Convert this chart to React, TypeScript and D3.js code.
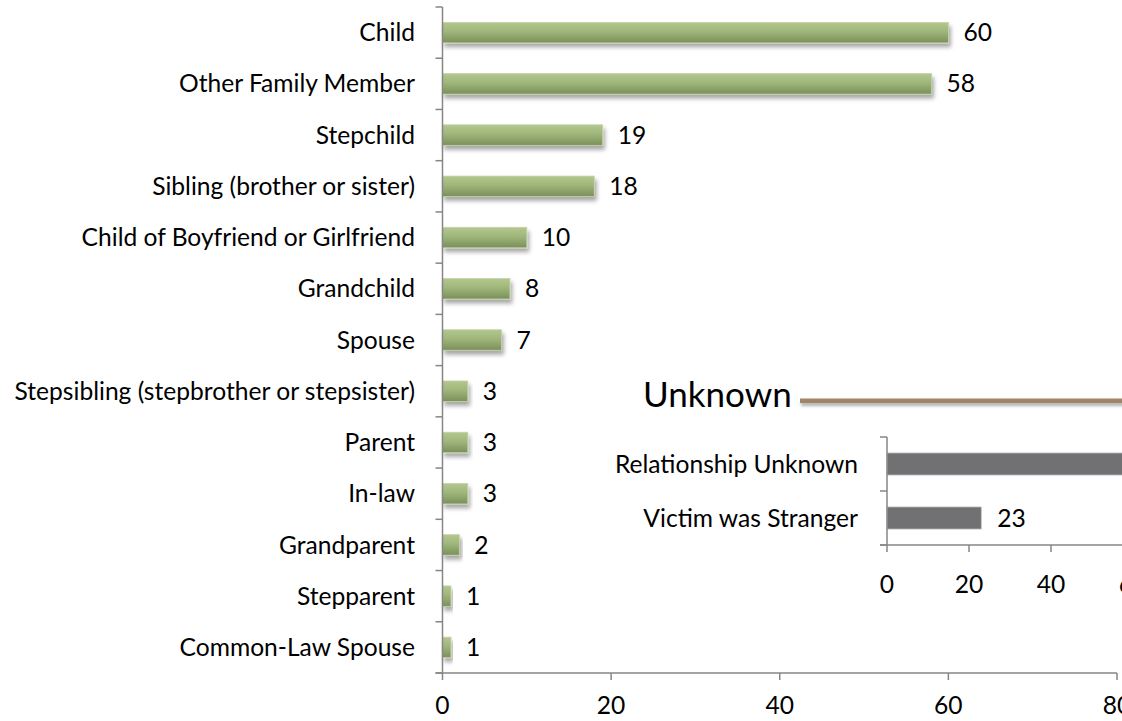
import React from "react";
import * as d3 from "d3";

const categories = [
  "Child",
  "Other Family Member",
  "Stepchild",
  "Sibling (brother or sister)",
  "Child of Boyfriend or Girlfriend",
  "Grandchild",
  "Spouse",
  "Stepsibling (stepbrother or stepsister)",
  "Parent",
  "In-law",
  "Grandparent",
  "Stepparent",
  "Common-Law Spouse",
];
const values = [60, 58, 19, 18, 10, 8, 7, 3, 3, 3, 2, 1, 1];
const mainTicks = [0, 20, 40, 60, 80];

const insetTitle = "Unknown";
const insetCategories = ["Relationship Unknown", "Victim was Stranger"];
const insetValues = [71, 23];
const insetTicks = [0, 20, 40, 60];

const FONT = "Lato, 'Open Sans', sans-serif";
const LABEL_SIZE = 24.6;
const AXIS = "#868686";

export default function App() {
  const W = 1122;
  const H = 721;

  const x = d3.scaleLinear().domain([0, 80]).range([442.5, 1117]);
  const y = d3.scaleBand<string>().domain(categories).range([7, 673]).paddingInner(0.6).paddingOuter(0.3);
  const step = y.step();
  const y0 = 7;

  const ix = d3.scaleLinear().domain([0, 60]).range([887, 887 + 4.1 * 60]);
  const iy = d3.scaleBand<string>().domain(insetCategories).range([437, 545]).paddingInner(0.59).paddingOuter(0.295);
  const iStep = iy.step();

  return (
    <svg
      width={W}
      height={H}
      style={{ position: "absolute", left: 0, top: 0, background: "#fff" }}
      fontFamily={FONT}
    >
      <defs>
        <linearGradient id="greenGrad" x1="0" y1="0" x2="0" y2="1">
          <stop offset="0%" stopColor="#b3c78f" />
          <stop offset="45%" stopColor="#9fb67a" />
          <stop offset="100%" stopColor="#7a8f5a" />
        </linearGradient>
        <filter id="shadow" x="-20%" y="-50%" width="140%" height="250%">
          <feDropShadow dx="2" dy="4" stdDeviation="2" floodColor="#000" floodOpacity="0.35" />
        </filter>
        <filter id="lineShadow" filterUnits="userSpaceOnUse" x="780" y="390" width="360" height="30">
          <feDropShadow dx="1" dy="3" stdDeviation="1.5" floodColor="#000" floodOpacity="0.3" />
        </filter>
      </defs>

      {/* Main chart bars */}
      {categories.map((c, i) => (
        <g key={c}>
          <rect
            x={x(0)}
            y={y(c)!}
            width={x(values[i]) - x(0)}
            height={y.bandwidth()}
            fill="url(#greenGrad)"
            stroke="#c4d3a8"
            strokeWidth={0.8}
            filter="url(#shadow)"
          />
          <text
            x={x(values[i]) + 15}
            y={y(c)! + y.bandwidth() / 2}
            dy="0.35em"
            fontSize={LABEL_SIZE}
            fill="#000"
          >
            {values[i]}
          </text>
          <text
            x={415}
            y={y(c)! + y.bandwidth() / 2}
            dy="0.35em"
            textAnchor="end"
            fontSize={LABEL_SIZE}
            fill="#000"
          >
            {c}
          </text>
        </g>
      ))}

      {/* Main axes */}
      <line x1={x(0)} x2={x(0)} y1={y0} y2={673} stroke={AXIS} strokeWidth={1.5} />
      {d3.range(categories.length + 1).map((k) => (
        <line key={k} x1={x(0) - 7} x2={x(0)} y1={y0 + k * step} y2={y0 + k * step} stroke={AXIS} strokeWidth={1.5} />
      ))}
      <line x1={x(0) - 7} x2={x(80)} y1={673} y2={673} stroke={AXIS} strokeWidth={1.5} />
      {mainTicks.map((t) => (
        <g key={t}>
          <line x1={x(t)} x2={x(t)} y1={673} y2={680} stroke={AXIS} strokeWidth={1.5} />
          <text x={x(t)} y={705} dy="0.35em" textAnchor="middle" fontSize={LABEL_SIZE} fill="#000">
            {t}
          </text>
        </g>
      ))}

      {/* Inset: Unknown */}
      <text x={643} y={407} fontSize={35} fill="#000">
        {insetTitle}
      </text>
      <rect x={800} y={398.5} width={330} height={4.5} fill="#9f8465" filter="url(#lineShadow)" />

      {insetCategories.map((c, i) => (
        <g key={c}>
          <rect
            x={ix(0)}
            y={iy(c)!}
            width={ix(insetValues[i]) - ix(0)}
            height={iy.bandwidth()}
            fill="#717174"
            stroke="#c8c8c8"
            strokeWidth={0.8}
          />
          <text
            x={ix(insetValues[i]) + 16}
            y={iy(c)! + iy.bandwidth() / 2}
            dy="0.35em"
            fontSize={LABEL_SIZE}
            fill="#000"
          >
            {insetValues[i]}
          </text>
          <text
            x={858}
            y={iy(c)! + iy.bandwidth() / 2}
            dy="0.35em"
            textAnchor="end"
            fontSize={LABEL_SIZE}
            fill="#000"
          >
            {c}
          </text>
        </g>
      ))}
      <line x1={ix(0)} x2={ix(0)} y1={437} y2={545} stroke={AXIS} strokeWidth={1.5} />
      {d3.range(insetCategories.length + 1).map((k) => (
        <line key={k} x1={ix(0) - 7} x2={ix(0)} y1={437 + k * iStep} y2={437 + k * iStep} stroke={AXIS} strokeWidth={1.5} />
      ))}
      <line x1={ix(0) - 7} x2={ix(60)} y1={545} y2={545} stroke={AXIS} strokeWidth={1.5} />
      {insetTicks.map((t) => (
        <g key={t}>
          <line x1={ix(t)} x2={ix(t)} y1={545} y2={552} stroke={AXIS} strokeWidth={1.5} />
          <text x={ix(t)} y={584} dy="0.35em" textAnchor="middle" fontSize={LABEL_SIZE} fill="#000">
            {t}
          </text>
        </g>
      ))}
    </svg>
  );
}
